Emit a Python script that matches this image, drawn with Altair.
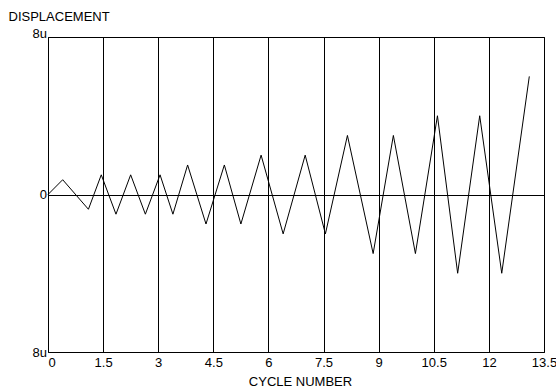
import altair as alt
import pandas as pd

# Values
cycle = [0, 0.4, 1.1, 1.45, 1.85, 2.25, 2.65, 3.05, 3.4, 3.8, 4.3, 4.8, 5.25,
         5.8, 6.4, 7.0, 7.55, 8.15, 8.85, 9.4, 10.0, 10.6, 11.15, 11.75, 12.35, 13.1]
disp = [0, 0.75, -0.75, 1, -1, 1, -1, 1, -1, 1.5, -1.5, 1.5, -1.5,
        2, -2, 2, -2, 3, -3, 3, -3, 4, -4, 4, -4, 6]
x_ticks = [0, 1.5, 3, 4.5, 6, 7.5, 9, 10.5, 12, 13.5]
y_ticks = [-8, 0, 8]

df = pd.DataFrame({"cycle": cycle, "disp": disp, "i": list(range(len(cycle)))})

FONT = "Liberation Sans"

x_axis = alt.Axis(
    values=x_ticks, grid=True, gridColor="black", gridWidth=1, gridOpacity=1,
    ticks=False, tickSize=0, domain=False,
    labelExpr="'' + datum.value",
    labelFont=FONT, labelFontSize=13, labelColor="black", labelPadding=4,
    labelAlign={"condition": {"test": "datum.value == 0", "value": "left"}, "value": "center"},
    labelOverlap=False,
    title="CYCLE NUMBER", titleFont=FONT, titleFontSize=13, titleFontWeight="normal",
    titleColor="black", titleX=252, titleY=33, titleBaseline="alphabetic", titleAlign="center",
)

y_axis = alt.Axis(
    values=y_ticks, grid=True, gridColor="black", gridWidth=1, gridOpacity=1,
    ticks=False, tickSize=0, domain=False,
    labelFont=FONT, labelFontSize=13, labelColor="black", labelPadding=1.5,
    labelExpr="datum.value == 0 ? '0' : '8u'",
    labelBaseline={"condition": {"test": "datum.value == 8", "value": "alphabetic"}, "value": "middle"},
    labelOverlap=False,
    title="DISPLACEMENT", titleFont=FONT, titleFontSize=13, titleFontWeight="normal",
    titleColor="black", titleAngle=0, titleX=-40, titleY=-16.6,
    titleAlign="left", titleBaseline="alphabetic",
)

chart = alt.Chart(df).mark_line(color="black", strokeWidth=1).encode(
    x=alt.X("cycle:Q", scale=alt.Scale(domain=[0, 13.5], nice=False, zero=False), axis=x_axis),
    y=alt.Y("disp:Q", scale=alt.Scale(domain=[-8, 8], nice=False), axis=y_axis),
    order="i:Q",
).properties(
    width=496, height=315,
    autosize=alt.AutoSizeParams(type="none"),
    padding={"left": 48, "top": 37, "right": 12, "bottom": 35},
    background="white",
).configure_view(stroke="black", strokeWidth=1)

chart.save("out.html", embed_options={"renderer": "svg", "actions": False})
